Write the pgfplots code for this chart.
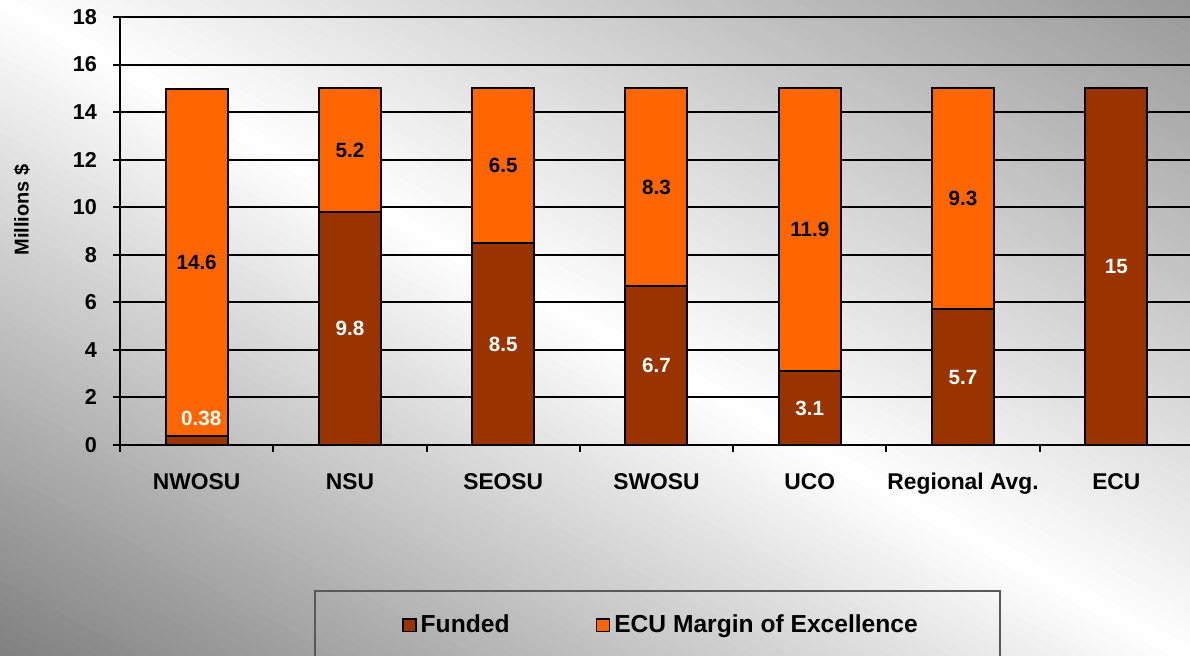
\documentclass[border=0pt]{standalone}
\usepackage{pgfplots}
\pgfplotsset{compat=1.18}
\usepackage{fontspec}
\setmainfont{Liberation Sans}
\definecolor{funded}{HTML}{993300}
\definecolor{margin}{HTML}{FF6600}
\begin{document}
\begin{tikzpicture}
\foreach \k in {0,...,119} {
  \pgfmathsetmacro\pa{\k/120}
  \pgfmathsetmacro\pb{(\k+1.05)/120}
  \pgfmathsetmacro\tm{(\k+0.5)/120}
  \pgfmathsetmacro\g{\tm<0.5 ? 50*(1-2*\tm) : 40*(2*\tm-1)}
  \fill[black!\g] ({595*(\pa+0.5)*1pt},{328*(\pa-0.5)*1pt}) -- ({595*(\pb+0.5)*1pt},{328*(\pb-0.5)*1pt})
     -- ({595*(\pb-0.5)*1pt},{328*(\pb+0.5)*1pt}) -- ({595*(\pa-0.5)*1pt},{328*(\pa+0.5)*1pt}) -- cycle;
}
\draw[black!65, line width=0.6pt] (157.5pt,32.5pt) rectangle (500pt,-20pt);
\begin{axis}[
  at={(60pt,105.5pt)}, anchor=south west,
  scale only axis, width=536.5pt, height=214pt,
  xmin=-0.5, xmax=6.5, ymin=0, ymax=18,
  ybar stacked, bar width=31pt,
  axis x line*=bottom, axis y line*=left,
  axis line style={line width=1.3pt, -},
  ymajorgrids, grid style={line width=1pt, black},
  ytick={0,2,...,18},
  xtick={-0.5,0.5,...,6.5},
  xticklabels={NWOSU,NSU,SEOSU,SWOSU,UCO,Regional Avg.,ECU},
  x tick label as interval,
  tick align=outside, major tick length=3.5pt,
  tick style={line width=1pt, black},
  /pgf/number format/assume math mode=true,
  yticklabel style={font=\bfseries\fontsize{10.8}{13}\selectfont, xshift=-4.5pt},
  xticklabel style={font=\bfseries\fontsize{11.4}{13}\selectfont, yshift=-7.5pt, text height=0.75em, text depth=0.22em},
  ylabel={Millions \$},
  every axis y label/.style={at={(axis description cs:-0.0913,0.549)}, rotate=90, anchor=center,
    font=\bfseries\fontsize{10}{12}\selectfont},
  legend columns=2,
  legend style={at={(axis description cs:0.505,-0.4206)}, anchor=center, draw=none, fill=none,
    font=\bfseries\fontsize{12.3}{14}\selectfont,
    /tikz/every even column/.append style={column sep=41pt}},
  legend image code/.code={\draw[#1, line width=0.9pt] (0pt,-3.2pt) rectangle (6.5pt,3.2pt);},
]
\addplot[fill=funded, draw=black, line width=1pt] coordinates {(0,0.38) (1,9.8) (2,8.5) (3,6.7) (4,3.1) (5,5.7) (6,15)};
\addplot[fill=margin, draw=black, line width=1pt] coordinates {(0,14.6) (1,5.2) (2,6.5) (3,8.3) (4,11.9) (5,9.3) (6,0)};
\legend{Funded, ECU Margin of Excellence}
\end{axis}
\begin{axis}[
  at={(60pt,105.5pt)}, anchor=south west,
  scale only axis, width=536.5pt, height=214pt,
  xmin=-0.5, xmax=6.5, ymin=0, ymax=18,
  hide axis,
  nodes near coords, point meta=explicit symbolic,
  every node near coord/.append style={anchor=center, font=\bfseries\fontsize{10.3}{12}\selectfont},
]
\addplot[only marks, mark=*, mark size=0pt, mark options={draw=none, fill=none},
  every node near coord/.append style={text=white}] table[meta=lab] {
x y lab
0.03 1.1 0.38
1 4.9 9.8
2 4.25 8.5
3 3.35 6.7
4 1.55 3.1
5 2.85 5.7
6 7.5 15
};
\addplot[only marks, mark=*, mark size=0pt, mark options={draw=none, fill=none},
  every node near coord/.append style={text=black}] table[meta=lab] {
x y lab
0 7.68 14.6
1 12.4 5.2
2 11.75 6.5
3 10.85 8.3
4 9.05 11.9
5 10.35 9.3
};
\end{axis}
\pgfresetboundingbox
\useasboundingbox (0,0) rectangle (595pt,328pt);
\end{tikzpicture}
\end{document}
